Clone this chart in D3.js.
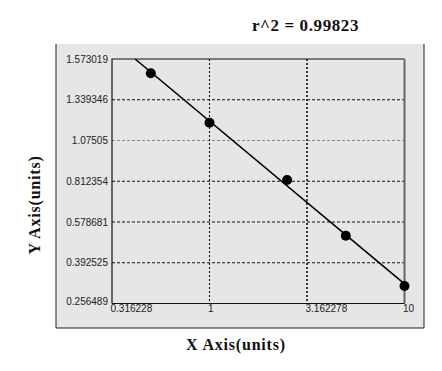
<!DOCTYPE html>
<html><head><meta charset="utf-8">
<script src="https://cdn.jsdelivr.net/npm/d3@7"></script>
<style>body{margin:0;background:#fff}svg{display:block}</style>
</head><body>
<script>
const xTicks = [0.316228, 1, 3.162278, 10];
const xTickLabels = ["0.316228", "1", "3.162278", "10"];
const yTicks = [0.256489, 0.392525, 0.578681, 0.812354, 1.07505, 1.339346, 1.573019];
const yTickLabels = ["0.256489", "0.392525", "0.578681", "0.812354", "1.07505", "1.339346", "1.573019"];
const xValues = [0.5, 1, 2.5, 5, 10];
const yValues = [1.491, 1.19, 0.82, 0.516, 0.315];
const title = "r^2 = 0.99823";
const xTitle = "X Axis(units)";
const yTitle = "Y Axis(units)";

const W = 442, H = 371;
const plot = {l: 112, r: 404.5, t: 59, b: 303.5};
const svg = d3.select("body").append("svg").attr("width", W).attr("height", H);

// panel
svg.append("rect").attr("x", 56).attr("y", 44).attr("width", 368).attr("height", 284)
  .attr("fill", "#e6e6e6");
svg.append("path").attr("d", "M56,44V328H424V44").attr("fill", "none").attr("stroke", "#222").attr("stroke-width", 1);

const x = d3.scaleLog().domain([xTicks[0], xTicks[xTicks.length-1]]).range([plot.l, plot.r]);
const yRange = yTicks.map((d, i) => plot.b - i * (plot.b - plot.t) / (yTicks.length - 1));
const y = d3.scaleLinear().domain(yTicks).range(yRange);

// gridlines
const g = svg.append("g");
g.selectAll("line.hg").data(yTicks.slice(1, -1)).enter().append("line")
  .attr("x1", plot.l).attr("x2", plot.r).attr("y1", d => y(d)).attr("y2", d => y(d))
  .attr("stroke", (d, i) => i === 3 ? "#888" : "#111").attr("stroke-width", 1).attr("stroke-dasharray", "3,2");
g.selectAll("line.vg").data(xTicks.slice(1, -1)).enter().append("line")
  .attr("y1", plot.t).attr("y2", plot.b).attr("x1", d => x(d)).attr("x2", d => x(d))
  .attr("stroke", "#111").attr("stroke-width", (d, i) => i === 1 ? 1.6 : 1.1).attr("stroke-dasharray", "2,2");

// plot border
svg.append("path").attr("d", `M${plot.l},${plot.b}V${plot.t}H${plot.r}`).attr("fill", "none").attr("stroke", "#111").attr("stroke-width", 1.2);
svg.append("line").attr("x1", plot.r).attr("x2", plot.r).attr("y1", plot.t).attr("y2", plot.b).attr("stroke", "#666").attr("stroke-width", 2);
svg.append("line").attr("x1", plot.l).attr("x2", plot.r).attr("y1", plot.b).attr("y2", plot.b).attr("stroke", "#111").attr("stroke-width", 1.2);

// axes labels via d3 axes
const yAxis = d3.axisLeft(y).tickValues(yTicks).tickSize(0).tickPadding(4)
  .tickFormat((d, i) => yTickLabels[i]);
const ya = svg.append("g").attr("transform", `translate(${plot.l},0)`).call(yAxis);
ya.select(".domain").remove();
ya.selectAll("text").attr("font-family", "Liberation Sans, Arial, sans-serif").attr("font-size", 10).attr("fill", "#222")
  .attr("dy", (d, i) => i === 0 ? "0.1em" : "0.32em");

const xAxis = d3.axisBottom(x).tickValues(xTicks).tickSize(0).tickPadding(1)
  .tickFormat((d, i) => xTickLabels[i]);
const xa = svg.append("g").attr("transform", `translate(0,${plot.b})`).call(xAxis);
xa.select(".domain").remove();
xa.selectAll("text").attr("font-family", "Liberation Sans, Arial, sans-serif").attr("font-size", 10).attr("fill", "#222")
  .attr("text-anchor", "start").attr("dx", -2);

// fit line: least squares in plotted space
const px = xValues.map(d => x(d)), py = yValues.map(d => y(d));
const mx = d3.mean(px), my = d3.mean(py);
const slope = d3.sum(px.map((v, i) => (v - mx) * (py[i] - my))) / d3.sum(px.map(v => (v - mx) ** 2));
const fy = xx => my + slope * (xx - mx);
const xStart = mx + (plot.t - my) / slope;
const xEnd = x(xValues[xValues.length - 1]);
svg.append("line").attr("x1", xStart).attr("y1", fy(xStart)).attr("x2", xEnd).attr("y2", fy(xEnd))
  .attr("stroke", "#000").attr("stroke-width", 1.6);

// points
svg.selectAll("circle.pt").data(xValues).enter().append("circle")
  .attr("cx", d => x(d)).attr("cy", (d, i) => y(yValues[i])).attr("r", 5).attr("fill", "#000");

// titles
svg.append("text").attr("x", 305.5).attr("y", 31).attr("text-anchor", "middle")
  .attr("font-family", "Liberation Serif, Times New Roman, serif").attr("font-weight", "bold").attr("font-size", 17)
  .attr("letter-spacing", 0.6)
  .attr("fill", "#111").text(title);
svg.append("text").attr("x", 236).attr("y", 350).attr("text-anchor", "middle")
  .attr("font-family", "Liberation Serif, Times New Roman, serif").attr("font-weight", "bold").attr("font-size", 16)
  .attr("letter-spacing", 0.8)
  .attr("fill", "#111").text(xTitle);
svg.append("text").attr("transform", "translate(40,205) rotate(-90)").attr("text-anchor", "middle")
  .attr("font-family", "Liberation Serif, Times New Roman, serif").attr("font-weight", "bold").attr("font-size", 16)
  .attr("letter-spacing", 0.8)
  .attr("fill", "#111").text(yTitle);
</script>
</body></html>
